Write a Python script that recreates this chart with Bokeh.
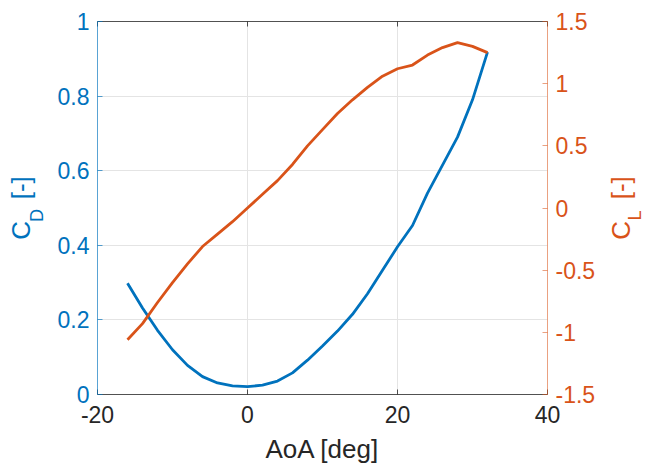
from bokeh.plotting import figure
from bokeh.layouts import row
from bokeh.models import Range1d, LinearAxis, FixedTicker, PrintfTickFormatter, CustomJSTickFormatter
from bokeh.embed import file_html
from bokeh.resources import INLINE

# ---- data ----
aoa = [-16, -14, -12, -10, -8, -6, -4, -2, 0, 2, 4, 6, 8, 10, 12, 14, 16, 18, 20, 22, 24, 26, 28, 30, 32]
cd = [0.298, 0.232, 0.172, 0.12, 0.078, 0.048, 0.031, 0.023, 0.021, 0.025, 0.036, 0.058, 0.092,
      0.13, 0.17, 0.215, 0.27, 0.333, 0.396, 0.453, 0.54, 0.615, 0.69, 0.79, 0.918]
cl = [-1.06, -0.93, -0.76, -0.6, -0.45, -0.31, -0.21, -0.11, 0.0, 0.11, 0.22, 0.35, 0.5,
      0.63, 0.76, 0.87, 0.97, 1.06, 1.12, 1.15, 1.23, 1.29, 1.33, 1.3, 1.25]
x_ticks = [-20, 0, 20, 40]
cd_ticks = [0, 0.2, 0.4, 0.6, 0.8, 1]
cl_ticks = [-1.5, -1, -0.5, 0, 0.5, 1, 1.5]

BLUE = "#0072BD"
ORANGE = "#D95319"
DARK = "#262626"
FONT = "Liberation Sans"
NB = "\u00a0"

p = figure(width=600, height=467, x_range=Range1d(-20, 40), y_range=Range1d(0, 1),
           output_backend="svg", toolbar_location=None,
           min_border_left=97, min_border_right=53, min_border_top=21, min_border_bottom=73,
           x_axis_location=None, y_axis_location=None)
p.extra_y_ranges = {"cl": Range1d(-1.5, 1.5)}
p.outline_line_color = None
p.background_fill_color = "white"
p.border_fill_color = "white"

def style_axis(ax, color, ticks, alpha=1.0):
    ax.ticker = FixedTicker(ticks=ticks)
    ax.axis_line_color = color
    ax.axis_line_alpha = alpha
    ax.axis_line_width = 1
    ax.major_tick_line_color = color
    ax.major_tick_line_alpha = alpha
    ax.major_tick_in = 5
    ax.major_tick_out = 0
    ax.minor_tick_line_color = None
    ax.major_label_text_color = color
    ax.major_label_text_font = FONT
    ax.major_label_text_font_size = "23px"
    ax.major_label_standoff = 8
    ax.formatter = PrintfTickFormatter(format="%g")

def style_label(ax, color, size, standoff):
    ax.axis_label_text_font = FONT
    ax.axis_label_text_font_size = size
    ax.axis_label_text_font_style = "normal"
    ax.axis_label_text_color = color
    ax.axis_label_standoff = standoff

def dummy(color, text, size, standoff):
    ax = LinearAxis(axis_label=text)
    ax.ticker = FixedTicker(ticks=[])
    ax.axis_line_color = None
    ax.major_tick_line_color = None
    ax.minor_tick_line_color = None
    ax.major_tick_in = 0
    ax.major_tick_out = 0
    ax.major_label_standoff = 0
    ax.major_label_text_font_size = "1px"
    style_label(ax, color, size, standoff)
    return ax

bottom = LinearAxis(axis_label="AoA [deg]")
style_axis(bottom, DARK, x_ticks, 0.8)
bottom.major_label_standoff = 11
style_label(bottom, DARK, "26px", 8)
p.add_layout(bottom, "below")

top = LinearAxis()
style_axis(top, DARK, x_ticks, 0.8)
top.formatter = CustomJSTickFormatter(code="return ''")
top.major_label_text_font_size = "1px"
top.major_label_standoff = 0
p.add_layout(top, "above")

# left: C_D [-]
left = LinearAxis(axis_label="D" + NB * 3)
style_axis(left, BLUE, cd_ticks, 0.65)
style_label(left, BLUE, "18px", 8)
p.add_layout(left, "left")
p.add_layout(dummy(BLUE, "C" + NB * 3 + "[-]", "26px", -12), "left")

# right axis (ticks only)
right = LinearAxis(y_range_name="cl")
style_axis(right, ORANGE, cl_ticks, 0.55)
p.add_layout(right, "right")

p.xgrid.ticker = FixedTicker(ticks=x_ticks)
p.ygrid.ticker = FixedTicker(ticks=cd_ticks)
p.grid.grid_line_color = "#e4e4e4"
p.grid.grid_line_width = 1

p.line(aoa, cd, line_color=BLUE, line_width=2.8)
p.line(aoa, cl, line_color=ORANGE, line_width=2.8, y_range_name="cl")

# narrow strip holding the right axis title C_L [-] (reads bottom-to-top)
p2 = figure(width=45, height=467, x_range=Range1d(0, 1), y_range=Range1d(0, 1),
            output_backend="svg", toolbar_location=None,
            min_border_left=43, min_border_right=0, min_border_top=21, min_border_bottom=73,
            x_axis_location=None, y_axis_location=None)
p2.outline_line_color = None
p2.background_fill_color = None
p2.border_fill_color = "white"
p2.xgrid.grid_line_color = None
p2.ygrid.grid_line_color = None
p2.add_layout(dummy(ORANGE, "L" + NB * 3, "18px", -1), "left")
p2.add_layout(dummy(ORANGE, "C" + NB * 3 + "[-]", "26px", -14), "left")

layout = row(p, p2)
open("out.html", "w").write(file_html(layout, INLINE))
